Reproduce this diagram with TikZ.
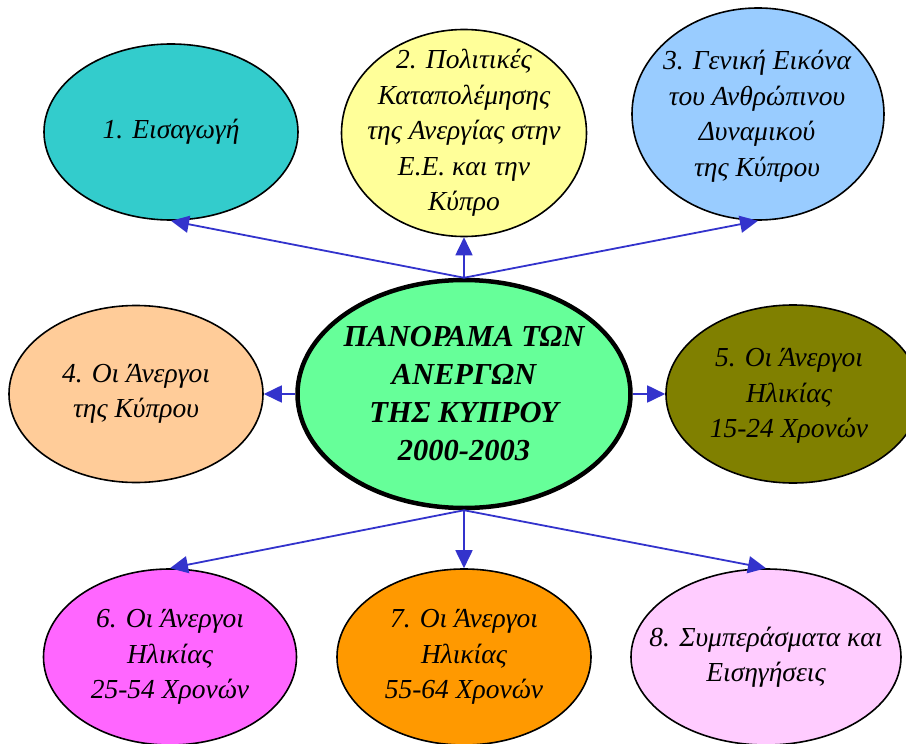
\documentclass[tikz,border=0pt]{standalone}
\usepackage{fontspec}
\setmainfont{Liberation Serif}
\usetikzlibrary{shapes.geometric,arrows.meta}
\definecolor{cone}{HTML}{33CCCC}
\definecolor{ctwo}{HTML}{FFFF99}
\definecolor{cthree}{HTML}{99CCFF}
\definecolor{cfour}{HTML}{FFCC99}
\definecolor{cfive}{HTML}{808000}
\definecolor{csix}{HTML}{FF66FF}
\definecolor{cseven}{HTML}{FF9900}
\definecolor{ceight}{HTML}{FFCCFF}
\definecolor{ccenter}{HTML}{66FF99}
\definecolor{arrowblue}{HTML}{3333CC}
\begin{document}
\begin{tikzpicture}[x=1pt,y=-1pt,
  bub/.style={ellipse, draw=black, line width=1.6pt, inner sep=0pt},
  hub/.style={ellipse, draw=black, line width=4.5pt, inner sep=0pt},
  txt/.style={inner sep=0pt, align=center, font=\fontsize{27.5}{35.5}\selectfont\itshape},
  hubtxt/.style={inner sep=0pt, align=center, font=\fontsize{30.5}{38}\selectfont\bfseries\itshape},
  conn/.style={draw=arrowblue, line width=1.8pt, -{Triangle[length=18pt,width=17pt]}}]
\useasboundingbox (0,0) rectangle (906,744);
\clip (0,0) rectangle (906,744);
\node[bub, fill=cone, minimum width=254pt, minimum height=176pt] (e1) at (171,132) {};
\node[txt] (t1) at (e1.center) {1. Εισαγωγή};
\node[bub, fill=ctwo, minimum width=245pt, minimum height=207pt] (e2) at (464,133) {};
\node[txt] (t2) at (e2.center) {2. Πολιτικές\\Καταπολέμησης\\της Ανεργίας στην\\Ε.Ε. και την\\Κύπρο};
\node[bub, fill=cthree, minimum width=252pt, minimum height=212pt] (e3) at (758,114) {};
\node[txt] (t3) at (757,116) {3. Γενική Εικόνα\\του Ανθρώπινου\\Δυναμικού\\της Κύπρου};
\node[hub, fill=ccenter, minimum width=333pt, minimum height=228pt] (c) at (464,394) {};
\node[hubtxt] (tc) at (c.center) {ΠΑΝΟΡΑΜΑ ΤΩΝ\\ΑΝΕΡΓΩΝ\\ΤΗΣ ΚΥΠΡΟΥ\\2000-2003};
\node[bub, fill=cfour, minimum width=254pt, minimum height=177pt] (e4) at (136,394) {};
\node[txt] (t4) at (e4.center) {4. Οι Άνεργοι\\της Κύπρου};
\node[bub, fill=cfive, minimum width=254pt, minimum height=178pt] (e5) at (793,394) {};
\node[txt] (t5) at (789,396) {5. Οι Άνεργοι\\Ηλικίας\\15-24 Χρονών};
\node[bub, fill=csix, minimum width=253pt, minimum height=176pt] (e6) at (170,657) {};
\node[txt] (t6) at (e6.center) {6. Οι Άνεργοι\\Ηλικίας\\25-54 Χρονών};
\node[bub, fill=cseven, minimum width=254pt, minimum height=176pt] (e7) at (464,657) {};
\node[txt] (t7) at (e7.center) {7. Οι Άνεργοι\\Ηλικίας\\55-64 Χρονών};
\node[bub, fill=ceight, minimum width=270pt, minimum height=176pt] (e8) at (766,657) {};
\node[txt] (t8) at (e8.center) {8. Συμπεράσματα και\\Εισηγήσεις};
\draw[conn] (c.north) -- (e1.south);
\draw[conn] (c.north) -- (e2.south);
\draw[conn] (c.north) -- (e3.south);
\draw[conn] (c.west) -- (e4.east);
\draw[conn] (c.east) -- (e5.west);
\draw[conn] (c.south) -- (e6.north);
\draw[conn] (c.south) -- (e7.north);
\draw[conn] (c.south) -- (e8.north);
\end{tikzpicture}
\end{document}
